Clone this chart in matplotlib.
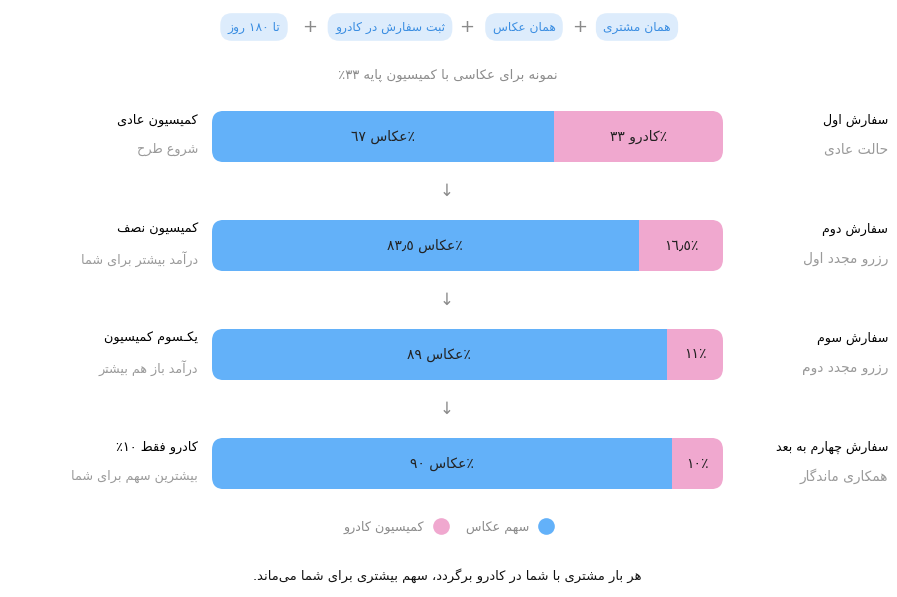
import re
import numpy as np
import matplotlib
matplotlib.use("Agg")
import matplotlib.pyplot as plt
from matplotlib.patches import FancyBboxPatch
from matplotlib.lines import Line2D
from matplotlib.transforms import blended_transform_factory
from matplotlib.font_manager import findfont, FontProperties
from matplotlib.ft2font import FT2Font

plt.rcParams['font.family'] = ['DejaVu Sans']

# ---- data ----
conditions = ["همان مشتری", "همان عکاس", "ثبت سفارش در کادرو", "تا ١٨٠ روز"]
subtitle = "نمونه برای عکاسی با کمیسیون پایه ٣٣٪"
stages = ["سفارش اول", "سفارش دوم", "سفارش سوم", "سفارش چهارم به بعد"]
stage_notes = ["حالت عادی", "رزرو مجدد اول", "رزرو مجدد دوم", "همکاری ماندگار"]
plans = ["کمیسیون عادی", "کمیسیون نصف", "یکـسوم کمیسیون", "کادرو فقط ١٠٪"]
plan_notes = ["شروع طرح", "درآمد بیشتر برای شما", "درآمد باز هم بیشتر", "بیشترین سهم برای شما"]
photographer_share = [67, 83.5, 89, 90]
kadro_share = [33, 16.5, 11, 10]
photographer_word = ["عکاس", "عکاس", "عکاس", "عکاس"]
kadro_word = ["کادرو", "", "", ""]
legend_labels = ["سهم عکاس", "کمیسیون کادرو"]
footer = "هر بار مشتری با شما در کادرو برگردد، سهم بیشتری برای شما می‌ماند."

BLUE = "#63b1f9"
PINK = "#f0a8cf"

# ---- minimal Persian shaping (matplotlib has no bidi/shaping) ----
FORMS = {
    "ا": 0xFE8D, "آ": 0xFE81, "د": 0xFEA9, "ذ": 0xFEAB, "ر": 0xFEAD, "ز": 0xFEAF,
    "ژ": 0xFB8A, "و": 0xFEED,
    "ب": 0xFE8F, "ت": 0xFE95, "ث": 0xFE99, "ج": 0xFE9D, "ح": 0xFEA1, "خ": 0xFEA5,
    "س": 0xFEB1, "ش": 0xFEB5, "ص": 0xFEB9, "ض": 0xFEBD, "ط": 0xFEC1, "ظ": 0xFEC5,
    "ع": 0xFEC9, "غ": 0xFECD, "ف": 0xFED1, "ق": 0xFED5, "ل": 0xFEDD, "م": 0xFEE1,
    "ن": 0xFEE5, "ه": 0xFEE9, "پ": 0xFB56, "چ": 0xFB7A, "ک": 0xFB8E, "گ": 0xFB92,
    "ی": 0xFBFC,
}
FALLBACK = {"ک": (0xFED9, 0xFEDA, 0xFEDB, 0xFEDC), "ی": (0xFEEF, 0xFEF0, 0xFEF3, 0xFEF4)}
DUAL = set("بتثجحخسشصضطظعغفقکلمنهیپچگـ")
RIGHT = set("اآدذرزژو")
_font = FT2Font(findfont(FontProperties(family="DejaVu Sans")))
DIGITS = "٠١٢٣٤٥٦٧٨٩٫0123456789"


def shape(s):
    out = []
    for i, ch in enumerate(s):
        if ch not in FORMS:
            out.append(ch)
            continue
        prev = s[i - 1] if i > 0 else ""
        nxt = s[i + 1] if i + 1 < len(s) else ""
        jp = prev in DUAL
        jn = ch in DUAL and (nxt in DUAL or nxt in RIGHT)
        k = 3 if (jp and jn) else 1 if jp else 2 if jn else 0
        cp = FORMS[ch] + k
        if _font.get_char_index(cp) == 0 and ch in FALLBACK:
            cp = FALLBACK[ch][k]
        out.append(chr(cp))
    return "".join(c for c in out if c != "\u200c")


def fa(s):
    s = shape(s)
    parts = re.findall(f"[{DIGITS}]+|[^{DIGITS}]+", s)
    return "".join(p if p[0] in DIGITS else p[::-1] for p in reversed(parts))


def ar_num(v):
    txt = f"{v:g}".replace(".", "٫")
    return txt.translate(str.maketrans("0123456789", "٠١٢٣٤٥٦٧٨٩"))


def share_label(word, v):
    # percent sign sits at the right end, number at the left end
    return fa(f"٪{word} {ar_num(v)}") if word else fa(f"٪{ar_num(v)}")


# ---- figure ----
W, H = 897, 597
fig = plt.figure(figsize=(W / 100, H / 100), dpi=100, facecolor="white")
bg = fig.add_axes([0, 0, 1, 1])
bg.set_xlim(0, W)
bg.set_ylim(H, 0)
bg.axis("off")

# condition pills
pill_x = [637, 524, 390, 254]
plus_x = [580, 467, 310]
for x, c in zip(pill_x, conditions):
    bg.text(x, 27, fa(c), ha="center", va="center", fontsize=8.8, color="#3b8ee2",
            bbox=dict(boxstyle="round,pad=0.6,rounding_size=0.95", fc="#ddecfc", ec="none"))
for x in plus_x:
    bg.text(x, 26.5, "+", ha="center", va="center", fontsize=13, color="#8a8a8a")

bg.text(448, 75, fa(subtitle), ha="center", va="center", fontsize=9.5, color="#8c8c8c")

# stacked bars
x0, x1 = 212, 723
top, bottom = 82, 518
ax = fig.add_axes([x0 / W, 1 - bottom / H, (x1 - x0) / W, (bottom - top) / H])
ax.set_xlim(0, 100)
ax.set_ylim(len(stages) - 0.5, -0.5)
ax.axis("off")
rows = np.arange(len(stages))
bh = 0.47
blue = ax.barh(rows, photographer_share, height=bh, color=BLUE)
pink = ax.barh(rows, kadro_share, left=photographer_share, height=bh, color=PINK)

ux = 100 / (x1 - x0)
uy = len(stages) / (bottom - top)
for r in rows:
    clip = FancyBboxPatch((0, r - bh / 2), 100, bh,
                          boxstyle=f"round,pad=0,rounding_size={12 * ux}",
                          mutation_aspect=uy / ux, fc="none", ec="none")
    ax.add_patch(clip)
    blue[r].set_clip_path(clip)
    pink[r].set_clip_path(clip)
    p, k = photographer_share[r], kadro_share[r]
    ax.text(p / 2, r, share_label(photographer_word[r], p),
            ha="center", va="center", fontsize=10, color="#222222")
    ax.text(p + k / 2, r, share_label(kadro_word[r], k),
            ha="center", va="center", fontsize=10, color="#222222")

side = ax.get_yaxis_transform()
xl = (198 - x0) / (x1 - x0)
xr = (888 - x0) / (x1 - x0)
for r in rows:
    ax.text(xr, r - 0.145, fa(stages[r]), transform=side, ha="right", va="center",
            fontsize=9.1, color="#000000")
    ax.text(xr, r + 0.12, fa(stage_notes[r]), transform=side, ha="right", va="center",
            fontsize=9.9, color="#9a9a9a")
    ax.text(xl, r - 0.145, fa(plans[r]), transform=side, ha="right", va="center",
            fontsize=9.3, color="#000000")
    ax.text(xl, r + 0.12, fa(plan_notes[r]), transform=side, ha="right", va="center",
            fontsize=9.2, color="#9a9a9a")

# arrows between rows
arr = blended_transform_factory(bg.transData, ax.transData)
for r in rows[:-1]:
    ax.text(447, r + 0.5, "↓", transform=arr, ha="center", va="center",
            fontsize=12, color="#8a8a8a")

# legend (RTL: marker after text)
handles = [Line2D([], [], ls="none", marker="o", ms=12, mfc=PINK, mec="none", label=fa(legend_labels[1])),
           Line2D([], [], ls="none", marker="o", ms=12, mfc=BLUE, mec="none", label=fa(legend_labels[0]))]
leg = fig.legend(handles=handles, loc="center", bbox_to_anchor=(448 / W, 1 - 527 / H), ncol=2,
                 frameon=False, markerfirst=False, handletextpad=0.75, columnspacing=1.5,
                 handlelength=1.0, fontsize=9.2)
for t in leg.get_texts():
    t.set_color("#8c8c8c")

bg.text(447, 576, fa(footer), ha="center", va="center", fontsize=9.45, color="#111111")

fig.savefig("out.png", dpi=100, facecolor="white")
